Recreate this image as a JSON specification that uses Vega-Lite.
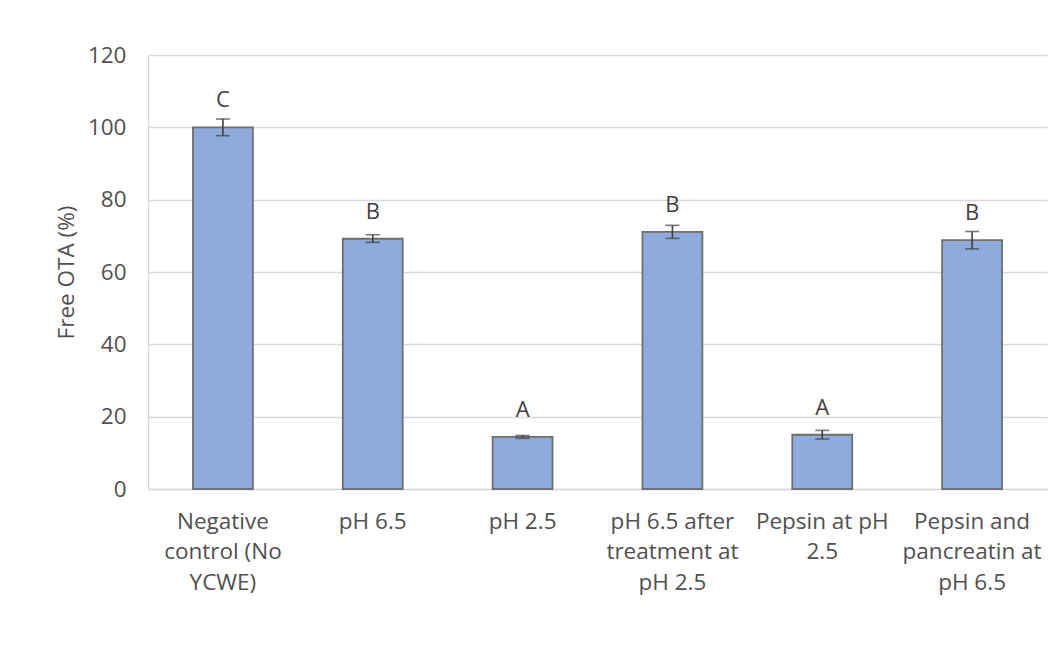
{
  "$schema": "https://vega.github.io/schema/vega-lite/v6.json",
  "width": 899,
  "height": 434,
  "autosize": "none",
  "padding": {"left": 148, "top": 55, "right": 14, "bottom": 173},
  "background": "white",
  "config": {
    "view": {"stroke": null},
    "font": "Open Sans",
    "axis": {"labelFont": "Open Sans", "titleFont": "Open Sans"}
  },
  "data": {
    "values": [
      {"group": "Negative|control (No|YCWE)", "value": 100.0, "low": 97.7, "high": 102.3, "letter": "C"},
      {"group": "pH 6.5", "value": 69.2, "low": 68.2, "high": 70.3, "letter": "B"},
      {"group": "pH 2.5", "value": 14.4, "low": 14.0, "high": 14.8, "letter": "A"},
      {"group": "pH 6.5 after|treatment at|pH 2.5", "value": 71.1, "low": 69.3, "high": 72.9, "letter": "B"},
      {"group": "Pepsin at pH|2.5", "value": 15.0, "low": 13.8, "high": 16.2, "letter": "A"},
      {"group": "Pepsin and|pancreatin at|pH 6.5", "value": 68.8, "low": 66.4, "high": 71.2, "letter": "B"}
    ]
  },
  "encoding": {
    "x": {
      "field": "group",
      "type": "nominal",
      "sort": null,
      "scale": {"paddingInner": 0.6, "paddingOuter": 0.3},
      "axis": {
        "title": null,
        "labelAngle": 0,
        "labelExpr": "split(datum.value, '|')",
        "labelFontSize": 22.5,
        "labelColor": "#505050",
        "labelLineHeight": 30.5,
        "labelPadding": 21,
        "labelBaseline": "top",
        "ticks": false,
        "domainColor": "#d9d9d9",
        "domainWidth": 1.3
      }
    }
  },
  "layer": [
    {
      "mark": {"type": "bar", "fill": "#8faadc", "stroke": "#6f6f6f", "strokeWidth": 1.8},
      "encoding": {
        "y": {
          "field": "value",
          "type": "quantitative",
          "scale": {"domain": [0, 120]},
          "axis": {
            "values": [0, 20, 40, 60, 80, 100, 120],
            "title": "Free OTA (%)",
            "titleFontSize": 22.5,
            "titleFontWeight": "normal",
            "titleColor": "#505050",
            "titleX": -82,
            "titleY": 217,
            "titleAngle": -90,
            "titleAlign": "center",
            "titleBaseline": "middle",
            "labelFontSize": 22.5,
            "labelColor": "#505050",
            "labelPadding": 22,
            "ticks": false,
            "grid": true,
            "gridColor": "#d9d9d9",
            "gridWidth": 1.3,
            "domain": true,
            "domainColor": "#d9d9d9",
            "domainWidth": 1.3
          }
        }
      }
    },
    {
      "mark": {"type": "rule", "color": "#404040", "strokeWidth": 1.6},
      "encoding": {
        "y": {"field": "low", "type": "quantitative"},
        "y2": {"field": "high"}
      }
    },
    {
      "mark": {"type": "tick", "color": "#404040", "thickness": 1.6, "size": 14},
      "encoding": {"y": {"field": "low", "type": "quantitative"}}
    },
    {
      "mark": {"type": "tick", "color": "#404040", "thickness": 1.6, "size": 14},
      "encoding": {"y": {"field": "high", "type": "quantitative"}}
    },
    {
      "mark": {"type": "text", "fontSize": 22, "color": "#404040", "baseline": "middle", "dy": -27},
      "encoding": {
        "y": {"field": "value", "type": "quantitative"},
        "text": {"field": "letter"}
      }
    }
  ]
}
